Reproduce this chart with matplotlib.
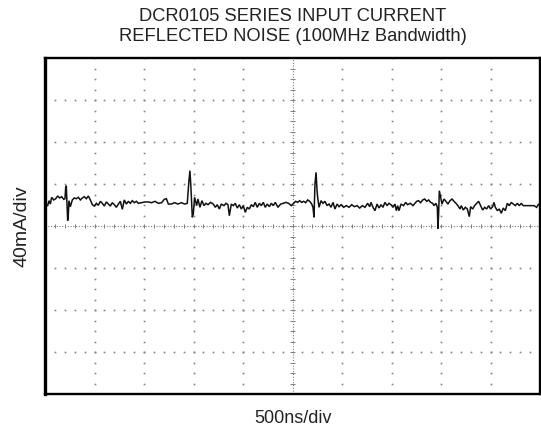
import matplotlib
matplotlib.use("Agg")
import matplotlib.pyplot as plt
import numpy as np

title_lines = ["DCR0105 SERIES INPUT CURRENT", "REFLECTED NOISE (100MHz Bandwidth)"]
x_label = "500ns/div"
y_label = "40mA/div"

# time in ns (500 ns/div), current in mA relative to screen centre (40 mA/div)
time_ns = [
    27, 40, 54, 67, 88, 108, 128, 148, 168, 189, 202, 209, 215, 222, 229, 236, 242, 256, 276, 296,
    316, 337, 357, 377, 397, 418, 438, 458, 478, 498, 519, 539, 559, 579, 599, 620, 640, 660, 680, 700,
    721, 741, 761, 781, 801, 822, 842, 862, 882, 902, 923, 943, 976, 1010, 1044, 1077, 1111, 1145, 1178, 1205,
    1226, 1246,
    1276, 1309, 1343, 1377, 1410, 1437, 1454, 1464, 1474, 1488, 1498, 1511, 1532, 1545, 1565, 1585, 1606, 1626, 1646, 1673,
    1700, 1720, 1740, 1761, 1781, 1808, 1828, 1848, 1862, 1882, 1902, 1922, 1942, 1963, 1983, 2003, 2023, 2043, 2064, 2084,
    2104, 2124, 2144, 2165, 2185, 2205, 2225, 2245, 2266, 2286, 2306, 2326, 2353, 2380, 2407, 2434, 2461, 2488,
    2512, 2532, 2552, 2573, 2593, 2613, 2633, 2653, 2674, 2694, 2707, 2717, 2727, 2738, 2748, 2754, 2768, 2788, 2808, 2828,
    2849, 2869, 2889, 2909, 2929, 2950, 2970, 2990, 3017, 3044, 3071, 3098, 3125, 3152, 3179, 3206, 3232, 3259, 3280, 3293,
    3313, 3333, 3354, 3374, 3394, 3414, 3434, 3455, 3475, 3495, 3515, 3535, 3549, 3562, 3576, 3596, 3623, 3643, 3663, 3690,
    3717, 3744,
    3754, 3774, 3794, 3815, 3835, 3855, 3875, 3895, 3916, 3929, 3949, 3963, 3969, 3976, 3983, 3996, 4010, 4030, 4050, 4070,
    4091, 4111, 4131, 4151, 4171, 4192, 4205, 4225, 4246, 4266, 4286, 4299, 4320, 4340, 4360, 4380, 4400, 4421, 4441, 4461,
    4481, 4501, 4522, 4535, 4549, 4569, 4589, 4609, 4629, 4650, 4670, 4690, 4710, 4730, 4751, 4771, 4791, 4811, 4831, 4872,
    4939, 4966, 4986, 5000,
]
current_mA = [
    19.4, 24.1, 20.9, 27.3, 24.8, 26.0, 28.6, 26.7, 27.9, 25.4, 26.0, 36.8, 38.4, 20.9, 5.1, 11.4, 24.1, 18.4, 24.8, 26.7,
    26.0, 27.3, 24.8, 26.7, 27.9, 26.0, 28.6, 24.8, 20.3, 19.0, 21.6, 19.7, 23.5, 21.6, 19.0, 22.9, 20.9, 19.0, 22.2, 20.3,
    17.8, 20.9, 23.5, 15.9, 24.8, 20.9, 23.5, 21.6, 24.1, 22.2, 23.5, 21.6, 22.2, 22.9, 22.9, 22.2, 23.5, 21.6, 22.2, 25.4,
    26.0, 20.9,
    20.9, 22.2, 20.9, 22.2, 20.9, 21.6, 43.2, 52.7, 36.8, 8.3, 11.4, 27.3, 19.4, 25.7, 17.8, 24.1, 19.4, 21.6, 20.3, 22.5,
    20.9, 17.8, 20.3, 16.2, 20.9, 19.4, 21.6, 20.3, 9.8, 20.9, 19.4, 21.6, 17.1, 20.3, 16.2, 19.4, 13.0, 17.8, 16.2, 20.3,
    18.4, 22.5, 17.8, 21.6, 19.4, 22.5, 17.8, 20.9, 18.4, 21.6, 19.4, 22.5, 17.8, 20.9, 21.6, 22.5, 21.6, 19.4,
    21.6, 23.5, 22.5, 24.1, 22.5, 23.5, 22.2, 24.8, 23.5, 20.9, 17.8, 8.3, 40.0, 51.1, 33.6, 27.3, 17.8, 24.1, 21.6, 23.5,
    19.4, 20.9, 17.8, 22.5, 16.2, 20.9, 18.4, 20.3, 17.8, 19.4, 17.8, 20.3, 18.4, 19.4, 17.1, 19.4, 17.8, 21.6, 18.4, 22.5,
    17.8, 14.6, 20.9, 17.1, 20.3, 17.8, 22.5, 19.4, 21.6, 20.3, 17.8, 20.9, 14.6, 19.4, 14.6, 20.9, 19.4, 22.5, 20.3, 21.6,
    19.4, 22.5,
    23.5, 24.1, 22.2, 24.8, 25.7, 23.5, 24.8, 22.5, 21.6, 19.4, 21.6, 17.8, -2.5, 11.4, 33.6, 27.3, 20.9, 25.7, 23.5, 20.9,
    24.1, 25.7, 23.5, 21.6, 19.4, 16.2, 19.4, 15.2, 17.8, 16.2, 8.9, 18.4, 16.2, 19.4, 21.6, 23.5, 19.4, 15.2, 17.8, 16.2,
    19.4, 16.2, 18.4, 22.5, 17.8, 14.6, 16.2, 12.1, 17.1, 14.6, 21.6, 19.4, 22.5, 20.9, 19.4, 21.6, 19.4, 21.6, 19.4, 19.4,
    19.4, 17.8, 20.9, 19.4,
]

W, H = 541, 435
fig = plt.figure(figsize=(W / 100, H / 100), dpi=100)
ax = fig.add_axes([45 / W, 40 / H, 495 / W, 336 / H])

x_div, y_div = 500.0, 40.0
ax.set_xlim(0, 10 * x_div)
ax.set_ylim(-4 * y_div, 4 * y_div)
ax.set_xticks([])
ax.set_yticks([])

grid_col = "#808080"
# dotted graticule
for k in range(1, 10):
    if k == 5:
        continue
    yy = np.arange(-4 * y_div, 4 * y_div + 1, y_div / 4)
    ax.plot(np.full_like(yy, k * x_div), yy, ls="none", marker="s", ms=1.2, mew=0, color=grid_col)
for k in range(-3, 4):
    if k == 0:
        continue
    xx = np.arange(0, 10 * x_div + 1, x_div / 5)
    ax.plot(xx, np.full_like(xx, k * y_div), ls="none", marker="s", ms=1.2, mew=0, color=grid_col)

# centre crosshair with fine ticks
ax.axhline(0, color=grid_col, lw=0.8, ls=(0, (1, 1.5)))
ax.axvline(5 * x_div, color=grid_col, lw=0.8, ls=(0, (1, 1.5)))
tx = np.arange(0, 10 * x_div + 1, x_div / 5)
ax.vlines(tx, -2.2, 2.2, color=grid_col, lw=0.7)
ty = np.arange(-4 * y_div, 4 * y_div + 1, y_div / 4)
ax.hlines(ty, 5 * x_div - 30, 5 * x_div + 30, color=grid_col, lw=0.7)

# waveform
ax.plot(time_ns, current_mA, color="#111111", lw=1.1, solid_joinstyle="miter")

for side, s in ax.spines.items():
    s.set_color("black")
    s.set_linewidth(1.7)
ax.spines["left"].set_linewidth(2.4)

fam = ["Liberation Sans", "DejaVu Sans"]
fig.text(293 / W, 1 - 20.7 / H, title_lines[0], ha="center", va="baseline", fontsize=13.2, family=fam, color="#222222")
fig.text(293 / W, 1 - 41.0 / H, title_lines[1], ha="center", va="baseline", fontsize=13.2, family=fam, color="#222222")
fig.text(22 / W, 1 - 226 / H, y_label, rotation=90, ha="center", va="center", fontsize=14, family=fam, color="#222222")
fig.text(293 / W, 1 - 419 / H, x_label, ha="center", va="center", fontsize=13, family=fam, color="#222222")

fig.savefig("out.png", dpi=100)
